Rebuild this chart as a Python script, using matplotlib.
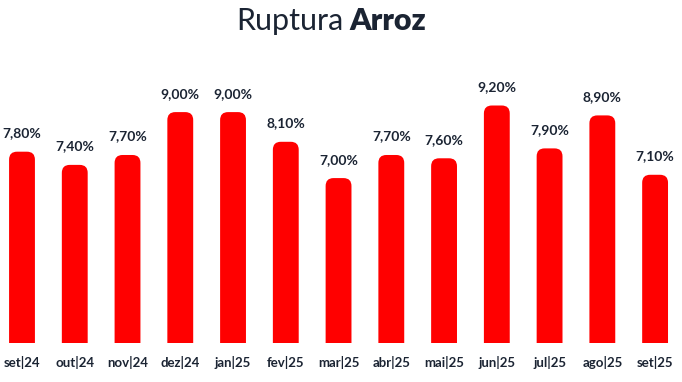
import numpy as np
import matplotlib.pyplot as plt
from matplotlib.patches import FancyBboxPatch

months = ["set|24", "out|24", "nov|24", "dez|24", "jan|25", "fev|25", "mar|25",
          "abr|25", "mai|25", "jun|25", "jul|25", "ago|25", "set|25"]
ruptura = [7.80, 7.40, 7.70, 9.00, 9.00, 8.10, 7.00, 7.70, 7.60, 9.20, 7.90, 8.90, 7.10]

RED = "#ff0000"
INK = "#1b2433"
plt.rcParams["font.family"] = ["Lato", "DejaVu Sans"]

fig = plt.figure(figsize=(6.82, 3.82), dpi=100)
ax = fig.add_axes([0, 0.102, 1, 0.741])

x = np.arange(len(months))
ymin, ymax = 2.0, 10.58
xmin, xmax = -0.417, 12.51
width = 0.49

# rounded-top bars; bottoms go below ylim and get clipped
aspect = ((ymax - ymin) / (0.741 * 382)) / ((xmax - xmin) / 682)
for xi, v in zip(x, ruptura):
    p = FancyBboxPatch((xi - width / 2, 0), width, v,
                       boxstyle="round,pad=0,rounding_size=0.15",
                       mutation_aspect=aspect, fc=RED, ec="none")
    ax.add_patch(p)
    ax.annotate(f"{v:.2f}%".replace(".", ","), (xi, v), xytext=(0, 9),
                textcoords="offset points", ha="center", va="bottom",
                fontsize=10, fontweight="bold", color=INK)

ax.set_xlim(xmin, xmax)
ax.set_ylim(ymin, ymax)
ax.set_xticks(x)
ax.set_xticklabels(months, fontsize=9.5, fontweight="bold", color=INK)
ax.tick_params(axis="x", length=0, pad=9)
ax.set_yticks([])
for s in ax.spines.values():
    s.set_visible(False)

fig.text(0.503, 0.945, "Ruptura", ha="right", va="center", fontsize=22,
         fontweight="normal", color=INK)
fig.text(0.513, 0.945, "Arroz", ha="left", va="center", fontsize=22,
         fontweight="heavy", color=INK)

fig.savefig("out.png", dpi=100)
